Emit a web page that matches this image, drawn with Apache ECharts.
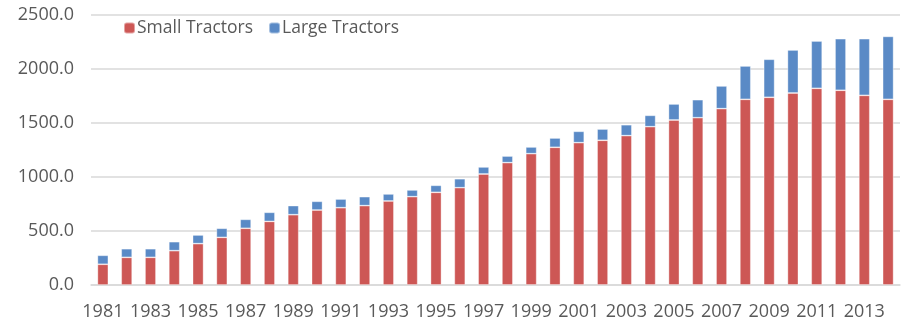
<!DOCTYPE html>
<html>
<head>
<meta charset="utf-8">
<script src="https://cdn.jsdelivr.net/npm/echarts@6/dist/echarts.min.js"></script>
<style>
  html, body { margin: 0; padding: 0; background: #fff; }
  #chart { width: 901px; height: 322px; }
</style>
</head>
<body>
<div id="chart"></div>
<script>
// Tractor stock by year, split into small and large tractors
const years = [
  '1981','1982','1983','1984','1985','1986','1987','1988','1989','1990',
  '1991','1992','1993','1994','1995','1996','1997','1998','1999','2000',
  '2001','2002','2003','2004','2005','2006','2007','2008','2009','2010',
  '2011','2012','2013','2014'
];
const smallTractors = [
  192, 256, 256, 318, 383, 441, 525, 589, 651, 694,
  716, 735, 778, 818, 858, 901, 1028, 1133, 1216, 1275,
  1318, 1340, 1383, 1466, 1528, 1549, 1633, 1719, 1738, 1778,
  1821, 1803, 1756, 1719
];
const largeTractors = [
  83, 80, 80, 83, 80, 84, 83, 84, 84, 81,
  80, 83, 65, 62, 65, 83, 65, 61, 62, 86,
  105, 104, 101, 105, 148, 167, 210, 309, 352, 398,
  438, 478, 525, 583
];
const yTicks = { min: 0, max: 2500, step: 500 };

const font = 'Open Sans';
const textColor = '#595959';

const chart = echarts.init(document.getElementById('chart'), null, { renderer: 'canvas' });
chart.setOption({
  animation: false,
  textStyle: { fontFamily: font },
  legend: {
    left: 118,
    top: 14,
    itemWidth: 11,
    itemHeight: 11,
    itemGap: 15,
    textStyle: { fontFamily: font, fontSize: 17.5, color: textColor, padding: [0, 0, 0, -3] },
    data: ['Small Tractors', 'Large Tractors']
  },
  grid: { left: 91, right: 1, top: 15, bottom: 37, containLabel: false },
  xAxis: {
    type: 'category',
    data: years,
    axisLine: { lineStyle: { color: '#d9d9d9', width: 1.5 } },
    axisTick: { show: false },
    axisLabel: {
      interval: 1,
      margin: 18,
      fontFamily: font,
      fontSize: 18,
      color: textColor
    }
  },
  yAxis: {
    type: 'value',
    min: yTicks.min,
    max: yTicks.max,
    interval: yTicks.step,
    axisLine: { show: false },
    axisTick: { show: false },
    splitLine: { lineStyle: { color: '#d9d9d9', width: 1.5 } },
    axisLabel: {
      margin: 17,
      fontFamily: font,
      fontSize: 18,
      color: textColor,
      formatter: v => v.toFixed(1)
    }
  },
  series: [
    {
      name: 'Small Tractors',
      type: 'bar',
      stack: 'total',
      barWidth: '46%',
      data: smallTractors,
      itemStyle: { color: '#CD5755', borderColor: 'rgba(255,255,255,0.45)', borderWidth: 0.8 }
    },
    {
      name: 'Large Tractors',
      type: 'bar',
      stack: 'total',
      barWidth: '46%',
      data: largeTractors,
      itemStyle: { color: '#5A8AC6', borderColor: 'rgba(255,255,255,0.45)', borderWidth: 0.8 }
    }
  ]
});
</script>
</body>
</html>
